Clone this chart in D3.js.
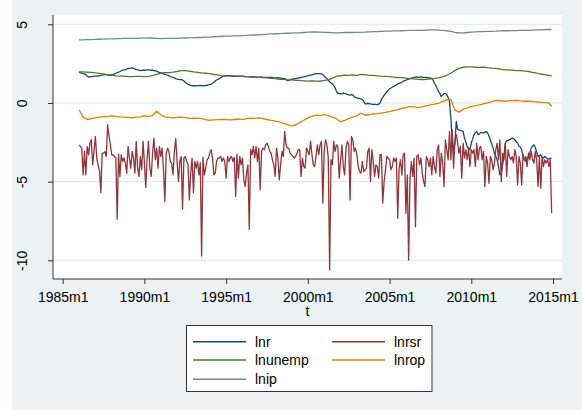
<!DOCTYPE html>
<html>
<head>
<meta charset="utf-8">
<script src="https://cdn.jsdelivr.net/npm/d3@7"></script>
<style>
  body { margin: 0; background: #fff; }
  text { font-family: "Liberation Sans", Arial, sans-serif; fill: #000; }
</style>
</head>
<body>
<script>
// Global variables
const width = 582;
const height = 410;
const firstYear = 1986; // series start in 1986m1, monthly to 2014m12

const xTicks = [1985, 1990, 1995, 2000, 2005, 2010, 2015];
const yTicks = [5, 0, -5, -10];
const seriesNames = ["lnr", "lnrsr", "lnunemp", "lnrop", "lnip"];
const seriesColors = ["#1a476f", "#90353b", "#55752f", "#e37e00", "#6e8e84"];

// monthly series
const lnr = [
  1.95, 1.93, 1.90, 1.87, 1.85, 1.80, 1.70, 1.65, 1.66, 1.68, 1.68, 1.70,
  1.70, 1.70, 1.72, 1.73, 1.75, 1.77, 1.78, 1.80, 1.80, 1.78, 1.75, 1.76,
  1.80, 1.82, 1.85, 1.88, 1.92, 1.96, 2.00, 2.05, 2.08, 2.10, 2.12, 2.15,
  2.18, 2.20, 2.22, 2.23, 2.20, 2.17, 2.12, 2.10, 2.08, 2.06, 2.07, 2.08,
  2.08, 2.09, 2.10, 2.10, 2.09, 2.08, 2.08, 2.06, 2.04, 2.02, 1.98, 1.95,
  1.93, 1.90, 1.85, 1.82, 1.80, 1.76, 1.72, 1.68, 1.65, 1.62, 1.59, 1.55,
  1.52, 1.50, 1.48, 1.48, 1.46, 1.40, 1.32, 1.24, 1.18, 1.15, 1.12, 1.10,
  1.08, 1.10, 1.09, 1.10, 1.10, 1.11, 1.10, 1.09, 1.10, 1.11, 1.12, 1.15,
  1.17, 1.20, 1.25, 1.32, 1.40, 1.46, 1.50, 1.55, 1.60, 1.65, 1.70, 1.72,
  1.74, 1.74, 1.73, 1.72, 1.70, 1.68, 1.70, 1.71, 1.70, 1.69, 1.70, 1.70,
  1.70, 1.68, 1.66, 1.67, 1.68, 1.66, 1.65, 1.66, 1.65, 1.64, 1.64, 1.63,
  1.63, 1.64, 1.65, 1.63, 1.62, 1.63, 1.62, 1.63, 1.62, 1.62, 1.61, 1.60,
  1.60, 1.60, 1.61, 1.60, 1.58, 1.57, 1.55, 1.55, 1.50, 1.42, 1.44, 1.48,
  1.50, 1.52, 1.54, 1.55, 1.57, 1.58, 1.60, 1.62, 1.64, 1.66, 1.68, 1.70,
  1.73, 1.75, 1.76, 1.78, 1.82, 1.85, 1.87, 1.87, 1.86, 1.86, 1.85, 1.80,
  1.70, 1.62, 1.55, 1.45, 1.35, 1.27, 1.20, 1.12, 0.95, 0.75, 0.62, 0.59,
  0.59, 0.58, 0.62, 0.60, 0.58, 0.55, 0.52, 0.50, 0.53, 0.52, 0.40, 0.35,
  0.32, 0.30, 0.28, 0.25, 0.22, 0.10, -0.04, -0.05, -0.03, -0.05, -0.06, -0.08,
  -0.10, -0.08, -0.10, -0.11, -0.08, 0.00, 0.21, 0.35, 0.48, 0.60, 0.70, 0.80,
  0.90, 0.95, 1.00, 1.05, 1.10, 1.15, 1.20, 1.25, 1.27, 1.32, 1.38, 1.42,
  1.45, 1.48, 1.52, 1.55, 1.58, 1.60, 1.62, 1.64, 1.65, 1.63, 1.64, 1.65,
  1.64, 1.63, 1.62, 1.62, 1.61, 1.60, 1.59, 1.55, 1.45, 1.25, 1.10, 0.90,
  0.74, 0.60, 0.40, 0.50, 0.60, 0.60, 0.53, 0.35, 0.11, -0.96, -2.34, -2.97,
  -2.55, -1.17, -1.70, -1.72, -1.74, -1.78, -1.81, -2.23, -2.50, -2.76, -2.90, -2.97,
  -2.55, -2.30, -2.02, -1.90, -1.81, -2.02, -1.95, -1.87, -1.90, -1.91, -1.85, -1.81,
  -1.91, -2.10, -2.34, -2.60, -2.87, -3.19, -3.40, -3.61, -4.04, -4.57, -4.46, -3.93,
  -3.40, -2.55, -2.40, -2.40, -2.34, -2.30, -2.23, -2.25, -2.34, -2.45, -2.55, -2.75,
  -2.80, -2.97, -3.40, -3.61, -3.72, -3.55, -3.40, -3.15, -2.87, -2.75, -2.66, -2.85,
  -3.10, -3.40, -3.35, -3.29, -3.45, -3.50, -3.40, -3.45, -3.55, -3.57, -3.52, -3.50
];

const lnrsr = [
  -2.66, -2.76, -2.90, -4.57, -3.08, -4.57, -2.76, -3.30, -2.55, -2.34, -3.93, -3.08,
  -2.13, -3.50, -3.93, -4.30, -5.69, -3.19, -3.19, -3.10, -3.40, -1.38, -2.10, -2.66,
  -3.29, -3.29, -3.40, -3.50, -7.39, -3.25, -4.67, -3.29, -3.72, -3.50, -3.82, -4.46,
  -2.76, -3.50, -4.14, -3.08, -3.50, -4.46, -2.44, -4.14, -4.67, -3.40, -4.25, -2.44,
  -3.82, -5.37, -3.50, -2.44, -4.14, -4.67, -3.19, -2.23, -3.61, -2.87, -4.14, -2.76,
  -3.40, -2.87, -4.25, -6.27, -3.19, -2.87, -3.08, -3.72, -3.82, -4.57, -3.08, -2.27,
  -3.72, -4.99, -3.72, -3.40, -6.75, -3.50, -3.40, -3.72, -3.90, -6.16, -4.46, -3.50,
  -5.69, -3.72, -4.14, -3.72, -4.57, -3.80, -9.73, -3.46, -4.57, -4.14, -3.61, -3.50,
  -3.19, -2.97, -3.50, -4.57, -4.46, -3.72, -3.50, -3.50, -3.40, -3.72, -3.50, -3.72,
  -4.78, -3.40, -3.72, -3.50, -3.40, -3.72, -3.46, -5.95, -3.25, -4.78, -3.40, -3.93,
  -3.50, -4.89, -5.31, -4.46, -3.93, -8.03, -2.97, -3.29, -2.76, -3.50, -2.76, -3.72,
  -2.87, -5.52, -3.08, -2.87, -2.97, -2.66, -2.55, -2.76, -3.08, -3.19, -3.61, -3.93,
  -4.67, -2.87, -3.50, -4.89, -3.93, -3.08, -3.40, -1.81, -2.66, -2.87, -2.87, -3.19,
  -3.29, -3.40, -3.50, -3.40, -3.19, -2.97, -2.97, -4.67, -3.50, -4.04, -4.14, -2.87,
  -3.08, -3.29, -2.44, -3.29, -3.93, -4.04, -3.40, -2.66, -3.29, -2.66, -2.44, -6.37,
  -3.08, -2.34, -2.66, -3.50, -10.62, -3.61, -3.93, -2.44, -3.08, -2.66, -2.76, -4.78,
  -3.72, -2.66, -4.04, -4.57, -2.87, -2.44, -2.66, -6.16, -2.13, -2.34, -3.08, -2.87,
  -3.29, -4.04, -4.36, -4.46, -3.72, -4.36, -4.25, -4.14, -3.08, -2.87, -4.99, -2.97,
  -3.72, -4.67, -3.93, -4.04, -4.78, -3.29, -3.29, -6.37, -4.99, -4.25, -3.40, -3.50,
  -3.61, -4.25, -4.04, -3.50, -3.72, -3.50, -7.33, -4.14, -3.61, -4.57, -3.29, -3.19,
  -7.01, -4.57, -9.98, -4.78, -3.72, -4.67, -3.50, -7.86, -3.40, -3.29, -3.93, -3.50,
  -4.46, -4.99, -5.31, -3.40, -3.61, -4.04, -3.50, -4.57, -3.40, -4.04, -4.46, -2.97,
  -2.66, -4.67, -3.19, -3.82, -5.31, -2.34, -2.97, -3.61, -1.81, -3.61, -1.70, -4.14,
  -2.34, -2.02, -2.55, -3.19, -2.76, -4.78, -2.55, -3.50, -2.97, -3.61, -2.87, -4.04,
  -2.97, -3.19, -2.97, -4.04, -2.55, -3.61, -2.87, -2.76, -3.61, -3.08, -5.31, -3.40,
  -3.82, -5.10, -3.40, -3.61, -4.25, -3.82, -2.97, -2.55, -3.61, -2.34, -4.99, -3.19,
  -3.61, -2.55, -4.67, -2.97, -3.40, -3.61, -3.40, -3.82, -2.97, -3.40, -5.20, -3.40,
  -3.82, -5.20, -3.29, -3.61, -3.40, -4.04, -3.19, -3.61, -3.08, -3.61, -3.82, -3.08,
  -3.61, -5.31, -3.40, -5.42, -3.40, -4.04, -3.61, -3.82, -3.61, -4.04, -3.61, -7.01
];

// quarterly series, 1986q1 .. 2015q1
const lnunemp = [
  1.98, 1.97, 1.96, 1.94, 1.91, 1.88, 1.85, 1.80, 1.77, 1.72, 1.71, 1.70,
  1.67, 1.67, 1.69, 1.69, 1.68, 1.69, 1.74, 1.82, 1.89, 1.93, 1.93, 1.96,
  2.00, 2.05, 2.05, 2.02, 1.97, 1.95, 1.91, 1.89, 1.87, 1.81, 1.78, 1.72,
  1.70, 1.74, 1.72, 1.70, 1.71, 1.68, 1.67, 1.65, 1.64, 1.61, 1.59, 1.56,
  1.55, 1.50, 1.50, 1.47, 1.47, 1.44, 1.43, 1.41, 1.39, 1.40, 1.39, 1.38,
  1.43, 1.47, 1.58, 1.70, 1.73, 1.77, 1.75, 1.78, 1.76, 1.82, 1.80, 1.76,
  1.75, 1.72, 1.70, 1.69, 1.67, 1.64, 1.62, 1.61, 1.58, 1.55, 1.53, 1.50,
  1.49, 1.50, 1.54, 1.56, 1.60, 1.67, 1.76, 1.89, 2.06, 2.20, 2.27, 2.30,
  2.29, 2.27, 2.26, 2.28, 2.24, 2.21, 2.20, 2.16, 2.10, 2.10, 2.09, 2.05,
  2.05, 2.03, 2.00, 1.94, 1.89, 1.84, 1.80, 1.75, 1.73
];

const lnrop = [
  -0.43, -0.90, -1.05, -1.00, -0.95, -0.90, -0.85, -0.87, -0.82, -0.85, -0.88, -0.90,
  -0.92, -0.95, -0.90, -0.88, -0.82, -0.85, -0.80, -0.52, -0.75, -0.88, -0.92, -0.95,
  -0.92, -0.90, -0.93, -0.98, -0.97, -0.96, -1.00, -1.06, -1.10, -1.08, -1.06, -1.04,
  -1.05, -1.07, -1.05, -1.03, -1.06, -1.00, -0.96, -0.98, -0.95, -1.00, -1.05, -1.10,
  -1.15, -1.20, -1.30, -1.38, -1.45, -1.40, -1.25, -1.10, -0.95, -0.85, -0.78, -0.80,
  -0.74, -0.80, -0.90, -1.00, -1.19, -1.10, -1.00, -0.90, -0.82, -0.64, -0.78, -0.75,
  -0.70, -0.68, -0.64, -0.60, -0.55, -0.48, -0.42, -0.35, -0.30, -0.22, -0.25, -0.28,
  -0.25, -0.18, -0.12, -0.08, -0.02, 0.10, 0.20, 0.22, -0.45, -0.58, -0.40, -0.32,
  -0.22, -0.17, -0.12, -0.05, 0.00, 0.08, 0.17, 0.14, 0.11, 0.13, 0.15, 0.17,
  0.13, 0.11, 0.12, 0.10, 0.06, 0.04, 0.02, 0.00, -0.21
];

const lnip = [
  4.01, 4.01, 4.02, 4.03, 4.04, 4.05, 4.06, 4.07, 4.08, 4.09, 4.09, 4.10,
  4.11, 4.11, 4.11, 4.12, 4.12, 4.13, 4.13, 4.11, 4.09, 4.10, 4.11, 4.11,
  4.11, 4.12, 4.13, 4.14, 4.15, 4.16, 4.16, 4.18, 4.19, 4.21, 4.22, 4.24,
  4.25, 4.25, 4.26, 4.27, 4.28, 4.29, 4.31, 4.32, 4.33, 4.35, 4.37, 4.39,
  4.40, 4.41, 4.42, 4.43, 4.44, 4.45, 4.46, 4.48, 4.50, 4.51, 4.51, 4.50,
  4.49, 4.48, 4.47, 4.46, 4.47, 4.48, 4.49, 4.48, 4.49, 4.49, 4.50, 4.52,
  4.53, 4.54, 4.55, 4.56, 4.57, 4.58, 4.58, 4.59, 4.60, 4.61, 4.62, 4.62,
  4.62, 4.63, 4.64, 4.64, 4.63, 4.62, 4.59, 4.55, 4.48, 4.45, 4.46, 4.48,
  4.50, 4.52, 4.53, 4.54, 4.55, 4.55, 4.56, 4.58, 4.59, 4.59, 4.60, 4.60,
  4.61, 4.62, 4.62, 4.63, 4.64, 4.65, 4.66, 4.67, 4.67
];

// month index -> decimal year (last month is 2014m12)
const lastMonth = lnrsr.length - 1;
const monthly = arr => arr.map((v, i) => ({ t: firstYear + i / 12, v: v }));
const quarterly = arr => arr.map((v, i) => ({ t: firstYear + Math.min(3 * i, lastMonth) / 12, v: v }));

const series = [monthly(lnr), monthly(lnrsr), quarterly(lnunemp), quarterly(lnrop), quarterly(lnip)];

// plot region
const plot = { left: 53, right: 562, top: 15, bottom: 279 };

const x = d3.scaleLinear().domain([1985, 2015]).range([62.7, 553]);
const y = d3.scaleLinear().domain([5, -10]).range([24.3, 260.3]);

const svg = d3.select("body").append("svg")
  .attr("width", width)
  .attr("height", height);

// graph region background
svg.append("rect")
  .attr("width", width)
  .attr("height", height)
  .attr("fill", "#eaf2f3");
svg.append("rect")
  .attr("width", 12)
  .attr("height", height)
  .attr("fill", "#fff");

// plot region
svg.append("rect")
  .attr("x", plot.left)
  .attr("y", plot.top)
  .attr("width", plot.right - plot.left)
  .attr("height", plot.bottom - plot.top)
  .attr("fill", "#fff");

// grid lines
svg.append("g")
  .selectAll("line")
  .data(yTicks)
  .enter().append("line")
    .attr("x1", plot.left)
    .attr("x2", plot.right)
    .attr("y1", d => y(d))
    .attr("y2", d => y(d))
    .attr("stroke", "#e2ebee")
    .attr("stroke-width", 1.2);

// lines
const line = d3.line()
  .x(d => x(d.t))
  .y(d => y(d.v));

svg.append("g")
  .selectAll("path")
  .data(series)
  .enter().append("path")
    .attr("d", line)
    .attr("fill", "none")
    .attr("stroke", (d, i) => seriesColors[i])
    .attr("stroke-width", 1.3)
    .attr("stroke-linejoin", "round");

// y axis, labels turned vertical like stata does
const yAxis = svg.append("g")
  .attr("transform", `translate(${plot.left},0)`)
  .call(d3.axisLeft(y).tickValues(yTicks).tickSize(5).tickFormat(d => String(d)));
yAxis.select(".domain").attr("d", `M0,${plot.top}V${plot.bottom}`);
yAxis.selectAll("text")
  .attr("x", null).attr("y", null).attr("dy", null)
  .attr("transform", "translate(-26,0) rotate(-90)")
  .attr("text-anchor", "middle")
  .style("font-size", "14px");

// x axis
const xAxis = svg.append("g")
  .attr("transform", `translate(0,${plot.bottom})`)
  .call(d3.axisBottom(x).tickValues(xTicks).tickSize(5).tickFormat(d => d + "m1"));
xAxis.select(".domain").attr("d", `M${plot.left},0H${plot.right}`);
xAxis.selectAll("text")
  .attr("y", 22.7).attr("dy", null)
  .style("font-size", "14px");

svg.selectAll(".domain, .tick line").attr("stroke", "#333");
svg.selectAll(".tick text").attr("fill", "#000").style("font-family", "Liberation Sans, Arial, sans-serif");

// axis title
svg.append("text")
  .attr("x", (plot.left + plot.right) / 2)
  .attr("y", 316)
  .attr("text-anchor", "middle")
  .style("font-size", "14px")
  .text("t");

// legend
const legend = svg.append("g").attr("class", "legend");
legend.append("rect")
  .attr("x", 186.5)
  .attr("y", 325.5)
  .attr("width", 245.5)
  .attr("height", 66)
  .attr("fill", "#fff")
  .attr("stroke", "#333")
  .attr("stroke-width", 1);

const legendItems = legend.selectAll("g.item")
  .data(seriesNames)
  .enter().append("g")
    .attr("class", "item")
    .attr("transform", (d, i) => `translate(${i % 2 === 0 ? 193 : 332},${[341.7, 360, 379.3][Math.floor(i / 2)]})`);

legendItems.append("line")
  .attr("x1", 0)
  .attr("x2", 53)
  .attr("stroke", (d, i) => seriesColors[i])
  .attr("stroke-width", 1.5);

legendItems.append("text")
  .attr("x", 62)
  .attr("dy", "0.36em")
  .style("font-size", "14px")
  .text(d => d);
</script>
</body>
</html>
